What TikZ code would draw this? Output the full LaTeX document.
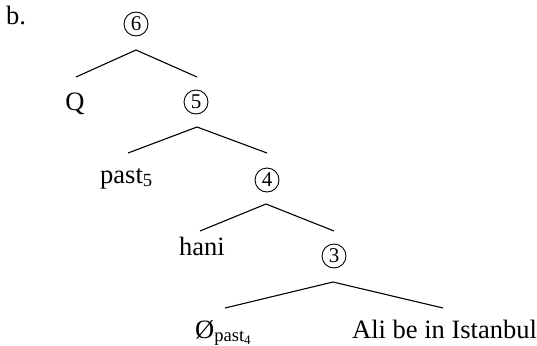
\documentclass[tikz,border=0pt]{standalone}
\usepackage{fontspec}
\setmainfont{Liberation Serif}
\tikzset{
  circnum/.style={draw, circle, line width=0.9pt, minimum size=24pt, inner sep=0pt, font=\fontsize{21}{22}\selectfont},
  word/.style={anchor=base, inner sep=0pt, font=\fontsize{26.5}{30}\selectfont},
  branch/.style={line width=1.1pt}
}
\begin{document}
\begin{tikzpicture}[x=1pt,y=-1pt]
\useasboundingbox (0,0) rectangle (537,345);
\node[word, anchor=base west] (lab) at (6,25) {b.};
% circled nodes
\node[circnum] (n6) at (136,24) {6};
\node[circnum] (n5) at (196,102) {5};
\node[circnum] (n4) at (267,180) {4};
\node[circnum] (n3) at (334,256) {3};
% leaves
\node[word] (q) at (75,110) {Q};
\node[word, anchor=base west] (past5) at (100,183) {past\textsubscript{5}};
\node[word] (hani) at (202,255) {hani};
\node[word, anchor=base west] (nullp) at (195,338) {Ø\textsubscript{past\textsubscript{4}}};
\node[word, anchor=base west] (ali) at (352,338) {Ali be in Istanbul};
% branch points
\coordinate (a6) at (136,50); \coordinate (l6) at (76,77);  \coordinate (r6) at (197,77);
\coordinate (a5) at (197,127); \coordinate (l5) at (128,153); \coordinate (r5) at (267,153);
\coordinate (a4) at (266,204); \coordinate (l4) at (200,231); \coordinate (r4) at (334,231);
\coordinate (a3) at (333,282); \coordinate (l3) at (225,308); \coordinate (r3) at (443,308);
\draw[branch] (l6) -- (a6) -- (r6);
\draw[branch] (l5) -- (a5) -- (r5);
\draw[branch] (l4) -- (a4) -- (r4);
\draw[branch] (l3) -- (a3) -- (r3);
\end{tikzpicture}
\end{document}
